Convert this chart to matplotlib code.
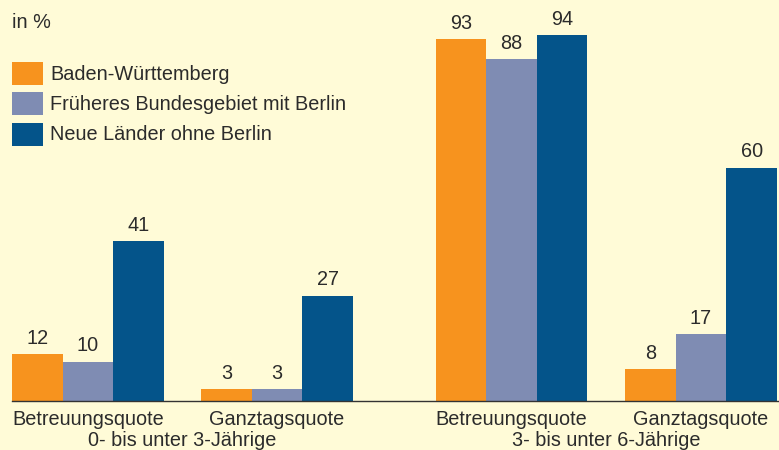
import matplotlib.pyplot as plt
from matplotlib.patches import Rectangle

# Daten (in %)
series = ["Baden-Württemberg", "Früheres Bundesgebiet mit Berlin", "Neue Länder ohne Berlin"]
categories = ["Betreuungsquote", "Ganztagsquote", "Betreuungsquote", "Ganztagsquote"]
age_groups = ["0- bis unter 3-Jährige", "3- bis unter 6-Jährige"]
values_bw = [12, 3, 93, 8]
values_west = [10, 3, 88, 17]
values_ost = [41, 27, 94, 60]

colors = ["#F7931E", "#7F8CB3", "#04548A"]
bg = "#FFFBD7"
txt = "#2B2B2B"
fs = 14.3

plt.rcParams['font.family'] = ['Liberation Sans', 'DejaVu Sans']

W, H = 779, 450
fig = plt.figure(figsize=(W / 100, H / 100), dpi=100, facecolor=bg)

# Achse in Pixelkoordinaten
base_y = 400.5
ax = fig.add_axes([12 / W, (H - base_y) / H, 1 - 12 / W, base_y / H])
ax.set_facecolor(bg)
ax.set_xlim(12, 779)
ax.set_ylim(0, base_y / 3.883)

centers = [88, 277, 511.5, 701]
bw = 50.6
for i, (vals, col) in enumerate(zip([values_bw, values_west, values_ost], colors)):
    xs = [c + (i - 1) * bw for c in centers]
    ax.bar(xs, vals, width=bw, color=col, linewidth=0)
    for x, v in zip(xs, vals):
        ax.annotate(str(v), (x, v), xytext=(0, 4.5), textcoords="offset points",
                    ha="center", va="bottom", fontsize=fs, color=txt)

for s in ["top", "right", "left"]:
    ax.spines[s].set_visible(False)
ax.spines["bottom"].set_color("#333333")
ax.spines["bottom"].set_linewidth(1.0)
ax.set_yticks([])
ax.set_xticks(centers)
ax.set_xticklabels(categories, fontsize=fs, color=txt)
ax.tick_params(axis="x", length=0, pad=7)

# Altersgruppen
for j, g in enumerate(age_groups):
    cx = (centers[2 * j] + centers[2 * j + 1]) / 2
    fig.text(cx / W, 1 - 440 / H, g, ha="center", va="center", fontsize=fs, color=txt)

fig.text(12 / W, 1 - 23 / H, "in %", ha="left", va="center", fontsize=fs, color=txt)

# Legende
for k, (name, col) in enumerate(zip(series, colors)):
    y0 = 62 + k * 30.5
    fig.add_artist(Rectangle((12 / W, 1 - (y0 + 23) / H), 31 / W, 23 / H,
                             transform=fig.transFigure, color=col, linewidth=0))
    fig.text(50 / W, 1 - (y0 + 12) / H, name, ha="left", va="center", fontsize=fs, color=txt)

fig.savefig("out.png", dpi=100, facecolor=bg)
